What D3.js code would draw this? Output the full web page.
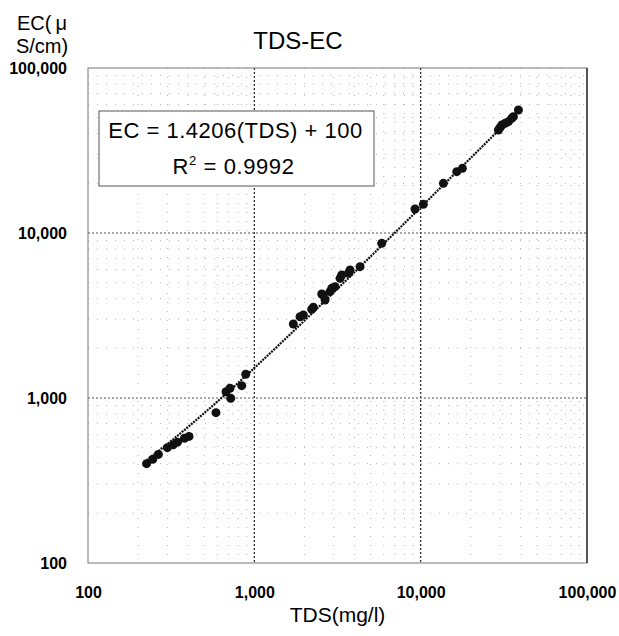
<!DOCTYPE html>
<html><head><meta charset="utf-8">
<script src="https://cdn.jsdelivr.net/npm/d3@7"></script>
<style>body{margin:0;background:#fff}svg{display:block}</style>
</head><body>
<svg id="c" width="619" height="636"></svg>
<script>
// ---- data ----
const tdsValues = [225, 245, 265, 300, 325, 345, 380, 405, 588, 676, 714, 721, 840, 888,
  1716, 1883, 1971, 2213, 2265, 2542, 2600, 2662, 2852, 2920, 3057, 3276, 3352,
  3675, 3762, 4322, 5834, 9250, 10380, 13700, 16480, 17820,
  29330, 30000, 30740, 32180, 33680, 35300, 36100, 38700];
const ecValues = [400, 425, 455, 500, 520, 540, 570, 585, 815, 1092, 1145, 996, 1188, 1392,
  2808, 3110, 3185, 3448, 3548, 4270, 4210, 3926, 4410, 4620, 4730, 5312, 5564,
  5700, 5970, 6250, 8660, 13970, 14920, 20000, 23540, 24660,
  42100, 43500, 45150, 46200, 47300, 49580, 50700, 55640];
const axisTicks = [100, 1000, 10000, 100000];
const trendSlope = 1.4206, trendIntercept = 100;
const equationLabel = "EC = 1.4206(TDS) + 100";
const r2Label = "0.9992";
const titleText = "TDS-EC";
const xTitle = "TDS(mg/l)";
const yTitleLines = ["EC(\u2009\u03bc", "S/cm)"];

// ---- layout ----
const L = 88, R = 587, T = 68, B = 563;
const font = "'Liberation Sans', Arial, sans-serif";
const svg = d3.select("#c");

const x = d3.scaleLog().domain([100, 100000]).range([L, R]);
const y = d3.scaleLog().domain([100, 100000]).range([B, T]);

// minor grid
const minorX = x.ticks().filter(v => axisTicks.indexOf(v) < 0);
const minorY = y.ticks().filter(v => axisTicks.indexOf(v) < 0);
const g = svg.append("g");
g.selectAll(".mx").data(minorX).join("line")
  .attr("x1", d => x(d)).attr("x2", d => x(d)).attr("y1", T).attr("y2", B)
  .attr("stroke", "#b5b5b5").attr("stroke-width", 1).attr("stroke-dasharray", "1,8");
g.selectAll(".my").data(minorY).join("line")
  .attr("y1", d => y(d)).attr("y2", d => y(d)).attr("x1", L).attr("x2", R)
  .attr("stroke", "#b5b5b5").attr("stroke-width", 1).attr("stroke-dasharray", "1,8");
// major grid
const majorInner = axisTicks.slice(1, -1);
g.selectAll(".Mx").data(majorInner).join("line")
  .attr("x1", d => x(d)).attr("x2", d => x(d)).attr("y1", T).attr("y2", B)
  .attr("stroke", "#222").attr("stroke-width", 1.2).attr("stroke-dasharray", "2,2");
g.selectAll(".My").data(majorInner).join("line")
  .attr("y1", d => y(d)).attr("y2", d => y(d)).attr("x1", L).attr("x2", R)
  .attr("stroke", "#555").attr("stroke-width", 1).attr("stroke-dasharray", "2,2");

// plot border
svg.append("rect").attr("x", L).attr("y", T).attr("width", R - L).attr("height", B - T)
  .attr("fill", "none").attr("stroke", "#777").attr("stroke-width", 1);
svg.append("line").attr("x1", R).attr("x2", R).attr("y1", T).attr("y2", B)
  .attr("stroke", "#555").attr("stroke-width", 2);

// trend line
const tMin = d3.min(tdsValues), tMax = d3.max(tdsValues);
const samples = d3.range(0, 101).map(i => tMin * Math.pow(tMax / tMin, i / 100));
svg.append("path")
  .datum(samples)
  .attr("fill", "none").attr("stroke", "#111").attr("stroke-width", 2.2)
  .attr("stroke-dasharray", "2,1")
  .attr("d", d3.line().x(d => x(d)).y(d => y(trendSlope * d + trendIntercept)));

// points
svg.append("g").selectAll("circle").data(tdsValues).join("circle")
  .attr("cx", d => x(d)).attr("cy", (d, i) => y(ecValues[i]))
  .attr("r", 4.5).attr("fill", "#111");

// axes
const xAxis = svg.append("g").attr("transform", `translate(0,${B})`)
  .call(d3.axisBottom(x).tickValues(axisTicks).tickFormat(d3.format(",")).tickSize(0).tickPadding(24));
const yAxis = svg.append("g").attr("transform", `translate(${L},0)`)
  .call(d3.axisLeft(y).tickValues(axisTicks).tickFormat(d3.format(",")).tickSize(0).tickPadding(21));
[xAxis, yAxis].forEach(a => {
  a.select(".domain").remove();
  a.selectAll("text").attr("font-family", font).attr("font-size", 16)
    .attr("font-weight", "bold").attr("fill", "#000");
});

// equation box
const bx = 99, by = 111, bw = 275, bh = 75;
svg.append("rect").attr("x", bx).attr("y", by).attr("width", bw).attr("height", bh)
  .attr("fill", "#fff").attr("stroke", "#555").attr("stroke-width", 1);
svg.append("text").attr("x", bx + bw / 2 - 1).attr("y", 138).attr("text-anchor", "middle")
  .attr("font-family", font).attr("font-size", 22).attr("letter-spacing", 0.5)
  .attr("fill", "#000").text(equationLabel);
const r2 = svg.append("text").attr("x", bx + bw / 2 - 3).attr("y", 174).attr("text-anchor", "middle")
  .attr("font-family", font).attr("font-size", 22).attr("letter-spacing", 0.6).attr("fill", "#000");
r2.append("tspan").text("R");
r2.append("tspan").attr("dy", -9).attr("font-size", 13).text("2");
r2.append("tspan").attr("dy", 9).text(" = " + r2Label);

// titles
svg.append("text").attr("x", 298).attr("y", 49).attr("text-anchor", "middle")
  .attr("font-family", font).attr("font-size", 24).attr("fill", "#000").text(titleText);
svg.append("text").attr("x", (L + R) / 2).attr("y", 622).attr("text-anchor", "middle")
  .attr("font-family", font).attr("font-size", 21).attr("fill", "#000").text(xTitle);
const yt = svg.append("text").attr("font-family", font).attr("font-size", 20)
  .attr("text-anchor", "middle").attr("fill", "#000");
yTitleLines.forEach((s, i) => yt.append("tspan").attr("x", 42).attr("y", 30 + i * 23).text(s));
</script>
</body></html>
